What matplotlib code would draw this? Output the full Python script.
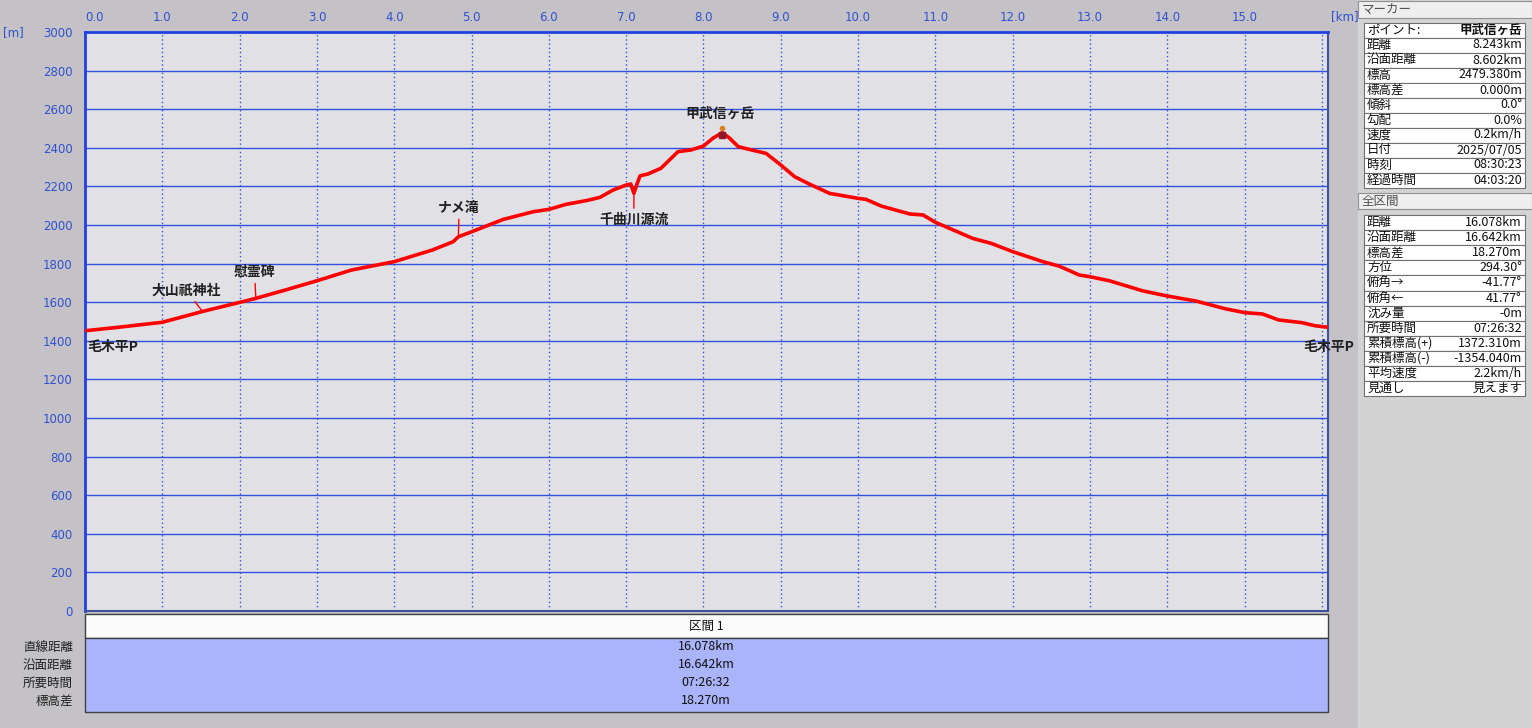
#!/usr/bin/env python3

import numpy as np
import matplotlib
matplotlib.use('Agg')
import matplotlib.pyplot as plt
from matplotlib.patches import Rectangle

plt.rcParams['font.family'] = ['Noto Sans CJK JP', 'DejaVu Sans']

# elevation profile (km, m)
dist_km = [0.00, 0.43, 1.00, 1.51, 2.00, 2.21, 2.59, 3.00, 3.45, 4.00, 4.49, 4.76,
           4.83, 5.00, 5.41, 5.80, 6.00, 6.22, 6.48, 6.66, 6.83, 7.00, 7.06, 7.10,
           7.14, 7.18, 7.28, 7.45, 7.67, 7.84, 8.00, 8.12, 8.243, 8.34, 8.45, 8.59,
           8.81, 9.00, 9.18, 9.37, 9.63, 10.00, 10.10, 10.30, 10.67, 10.84, 11.00,
           11.18, 11.48, 11.72, 12.00, 12.39, 12.60, 12.86, 13.00, 13.25, 13.68,
           14.00, 14.37, 14.76, 15.00, 15.23, 15.44, 15.74, 15.91, 16.078]
elev_m = [1452, 1470, 1496, 1551, 1599, 1620, 1663, 1711, 1767, 1810, 1870, 1913,
          1939, 1965, 2029, 2069, 2081, 2107, 2126, 2143, 2181, 2207, 2212, 2164,
          2212, 2255, 2264, 2294, 2380, 2389, 2409, 2449, 2479, 2449, 2406, 2392,
          2371, 2311, 2250, 2212, 2164, 2138, 2133, 2098, 2057, 2052, 2014,
          1983, 1931, 1905, 1862, 1810, 1787, 1741, 1732, 1711, 1659,
          1632, 1606, 1565, 1546, 1539, 1508, 1494, 1478, 1470]

# waypoints: name, km, label offset (points), alignment, leader line
point_names = ['毛木平P', '大山祇神社', '慰霊碑', 'ナメ滝', '千曲川源流', '甲武信ヶ岳', '毛木平P']
point_km = [0.0, 1.52, 2.21, 4.83, 7.10, 8.243, 16.078]
point_offsets = [(2, -11.5), (-11.5, 9.9), (-1, 13.7), (0.5, 15.6), (0, -13.7), (-1.5, 13.5), (18.7, -14)]
point_ha = ['left', 'center', 'center', 'center', 'center', 'center', 'right']
point_leader = [False, True, True, True, True, False, False]

y_ticks = list(range(0, 3001, 200))
x_ticks = list(range(0, 17))
x_tick_labels = ['%.1f' % v for v in x_ticks[:-1]] + ['']

marker_rows = [('ポイント:', '甲武信ヶ岳'), ('距離', '8.243km'), ('沿面距離', '8.602km'),
               ('標高', '2479.380m'), ('標高差', '0.000m'), ('傾斜', '0.0°'),
               ('勾配', '0.0%'), ('速度', '0.2km/h'), ('日付', '2025/07/05'),
               ('時刻', '08:30:23'), ('経過時間', '04:03:20')]
total_rows = [('距離', '16.078km'), ('沿面距離', '16.642km'), ('標高差', '18.270m'),
              ('方位', '294.30°'), ('俯角→', '-41.77°'), ('俯角←', '41.77°'),
              ('沈み量', '-0m'), ('所要時間', '07:26:32'), ('累積標高(+)', '1372.310m'),
              ('累積標高(-)', '-1354.040m'), ('平均速度', '2.2km/h'), ('見通し', '見えます')]
section_title = '区間 1'
section_labels = ['直線距離', '沿面距離', '所要時間', '標高差']
section_values = ['16.078km', '16.642km', '07:26:32', '18.270m']

W, H = 1532, 728
FIG_BG = '#c4c2c6'
PLOT_BG = '#e1e1e5'
BLUE_TXT = '#3050d0'
GRID_BLUE = '#3050e0'

fig = plt.figure(figsize=(W / 100, H / 100), dpi=100, facecolor=FIG_BG)

# overlay in pixel coordinates for panels and tables
ov = fig.add_axes([0, 0, 1, 1], zorder=0)
ov.set_xlim(0, W)
ov.set_ylim(H, 0)
ov.axis('off')
ov.patch.set_visible(False)

ax = fig.add_axes([85 / W, (H - 611) / H, (1328 - 85) / W, (611 - 32) / H], zorder=2)
ax.set_facecolor(PLOT_BG)
ax.set_xlim(0, 16.078)
ax.set_ylim(0, 3000)

ax.set_yticks(y_ticks)
ax.set_yticklabels([str(v) for v in y_ticks], fontsize=8.5, color=BLUE_TXT, family='DejaVu Sans')
ax.set_xticks(x_ticks)
ax.set_xticklabels(x_tick_labels, fontsize=8.5, color=BLUE_TXT, family='DejaVu Sans')
ax.xaxis.tick_top()
ax.tick_params(axis='x', length=0, pad=6)
ax.tick_params(axis='y', length=0, pad=9)
ax.get_xticklabels()[0].set_horizontalalignment('left')

for v in y_ticks[1:-1]:
    ax.axhline(v, color=GRID_BLUE, lw=1.0, zorder=1)
for v in x_ticks[1:]:
    ax.axvline(v, color=GRID_BLUE, lw=1.0, ls=(0, (1, 2)), zorder=1)

for side in ['top', 'left']:
    ax.spines[side].set_color('#2040e0')
    ax.spines[side].set_linewidth(2)
for side in ['right', 'bottom']:
    ax.spines[side].set_color('#4050a0')
    ax.spines[side].set_linewidth(1.5)

ax.plot(dist_km, elev_m, color='#ff0000', lw=2.6, zorder=3, solid_capstyle='butt')

for name, km, off, ha, lead in zip(point_names, point_km, point_offsets, point_ha, point_leader):
    e = np.interp(km, dist_km, elev_m)
    va = 'bottom' if off[1] > 0 else 'top'
    if not lead:
        va = 'center'
    ap = dict(arrowstyle='-', color='#ff0000', lw=1, shrinkA=1, shrinkB=0) if lead else None
    ax.annotate(name, xy=(km, e), xytext=off, textcoords='offset points',
                ha=ha, va=va, fontsize=10, fontweight='bold', color='#202020',
                arrowprops=ap, zorder=4, annotation_clip=False)

# hiker icon at summit (rough)
pk = np.interp(8.243, dist_km, elev_m)
ax.plot([8.243], [pk - 15], marker='s', ms=5, color='#8b1a2a', zorder=5)
ax.plot([8.243], [pk + 25], marker='o', ms=3, color='#e08020', zorder=5)

ov.text(3, 33, '[m]', color=BLUE_TXT, fontsize=8.5, family='DejaVu Sans', va='center')
ov.text(1331, 17, '[km]', color=BLUE_TXT, fontsize=8.5, family='DejaVu Sans', va='center')

# right panel
ov.add_patch(Rectangle((1358, 0), W - 1358, H, fc='#d3d3d3', ec='none'))


def header(y0, y1, title):
    ov.add_patch(Rectangle((1358, y0), W - 1358, y1 - y0, fc='#eeeeee', ec='#909090', lw=0.8))
    ov.text(1362, (y0 + y1) / 2, title, fontsize=9, color='#505050', va='center')


def table(top, row_h, rows):
    for i, (k, v) in enumerate(rows):
        y = top + i * row_h
        ov.add_patch(Rectangle((1364, y), 1525 - 1364, row_h, fc='white', ec='#707070', lw=0.8))
        ov.text(1367, y + row_h / 2, k, fontsize=9, color='#101010', va='center')
        bold = 'bold' if k == 'ポイント:' else 'normal'
        ov.text(1522, y + row_h / 2, v, fontsize=9, color='#101010', va='center',
                ha='right', fontweight=bold)


header(1, 18, 'マーカー')
table(22.5, 15.0, marker_rows)
header(193, 209, '全区間')
table(215, 15.1, total_rows)

# bottom section table
ov.add_patch(Rectangle((85, 614), 1328 - 85, 24, fc='#fbfbfb', ec='#404040', lw=1))
ov.text(706, 626, section_title, fontsize=9, color='#101010', ha='center', va='center')
ov.add_patch(Rectangle((85, 638), 1328 - 85, 74, fc='#aab4fa', ec='#404040', lw=1))
for i, (lab, val) in enumerate(zip(section_labels, section_values)):
    y = 647 + 18 * i
    ov.text(73, y, lab, fontsize=9, color='#202020', ha='right', va='center')
    ov.text(706, y, val, fontsize=9, color='#101010', ha='center', va='center')

fig.savefig('out.png', dpi=100, facecolor=FIG_BG)
